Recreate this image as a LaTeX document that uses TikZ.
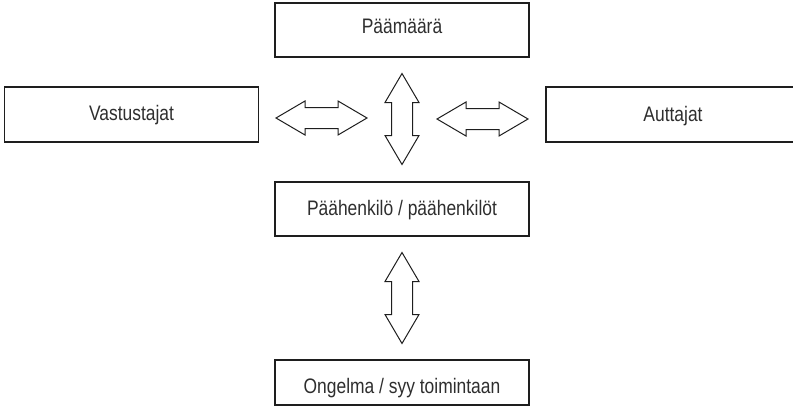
\documentclass[tikz,border=0pt]{standalone}
\usepackage{fontspec}
\setmainfont{Liberation Sans}[FakeStretch=0.83]
\definecolor{inkline}{HTML}{1E1E1E}
\definecolor{inktext}{HTML}{2E2E2E}
\tikzset{
  box/.style={draw=inkline, line width=1.1pt, rectangle, inner sep=0pt,
    minimum width=254pt, text=inktext, font=\fontsize{21}{25}\selectfont},
  arrowline/.style={draw=inkline, line width=1pt, fill=white, line join=miter},
  dblarrow/.pic={
    \draw[arrowline] (-45.5,0) -- (-16.5,-17) -- (-16.5,-10.5) -- (16.5,-10.5)
      -- (16.5,-17) -- (45.5,0) -- (16.5,17) -- (16.5,10.5) -- (-16.5,10.5)
      -- (-16.5,17) -- cycle;
  }
}
\begin{document}
\begin{tikzpicture}[x=1pt,y=-1pt]
\useasboundingbox (0,0) rectangle (793,415);
\clip (0,0) rectangle (793,415);
\node[box, minimum height=54pt, text height=15pt, text depth=9pt] (goal) at (402,30) {Päämäärä};
\node[box, minimum height=55pt, text height=15pt, text depth=4pt] (opp) at (131.5,114.5) {Vastustajat};
\node[box, minimum height=55pt, text height=15pt, text depth=2pt] (help) at (673,114.5) {Auttajat};
\node[box, minimum height=54pt, text height=15pt, text depth=3pt] (hero) at (402,209) {Päähenkilö / päähenkilöt};
\node[box, minimum height=45pt, text height=24pt, text depth=3pt] (prob) at (402,382.5) {Ongelma / syy toimintaan};
\pic at (321.5,118) {dblarrow};
\pic at (482.5,119) {dblarrow};
\pic[rotate=90] at (402,119) {dblarrow};
\pic[rotate=90] at (402,298) {dblarrow};
\end{tikzpicture}
\end{document}
